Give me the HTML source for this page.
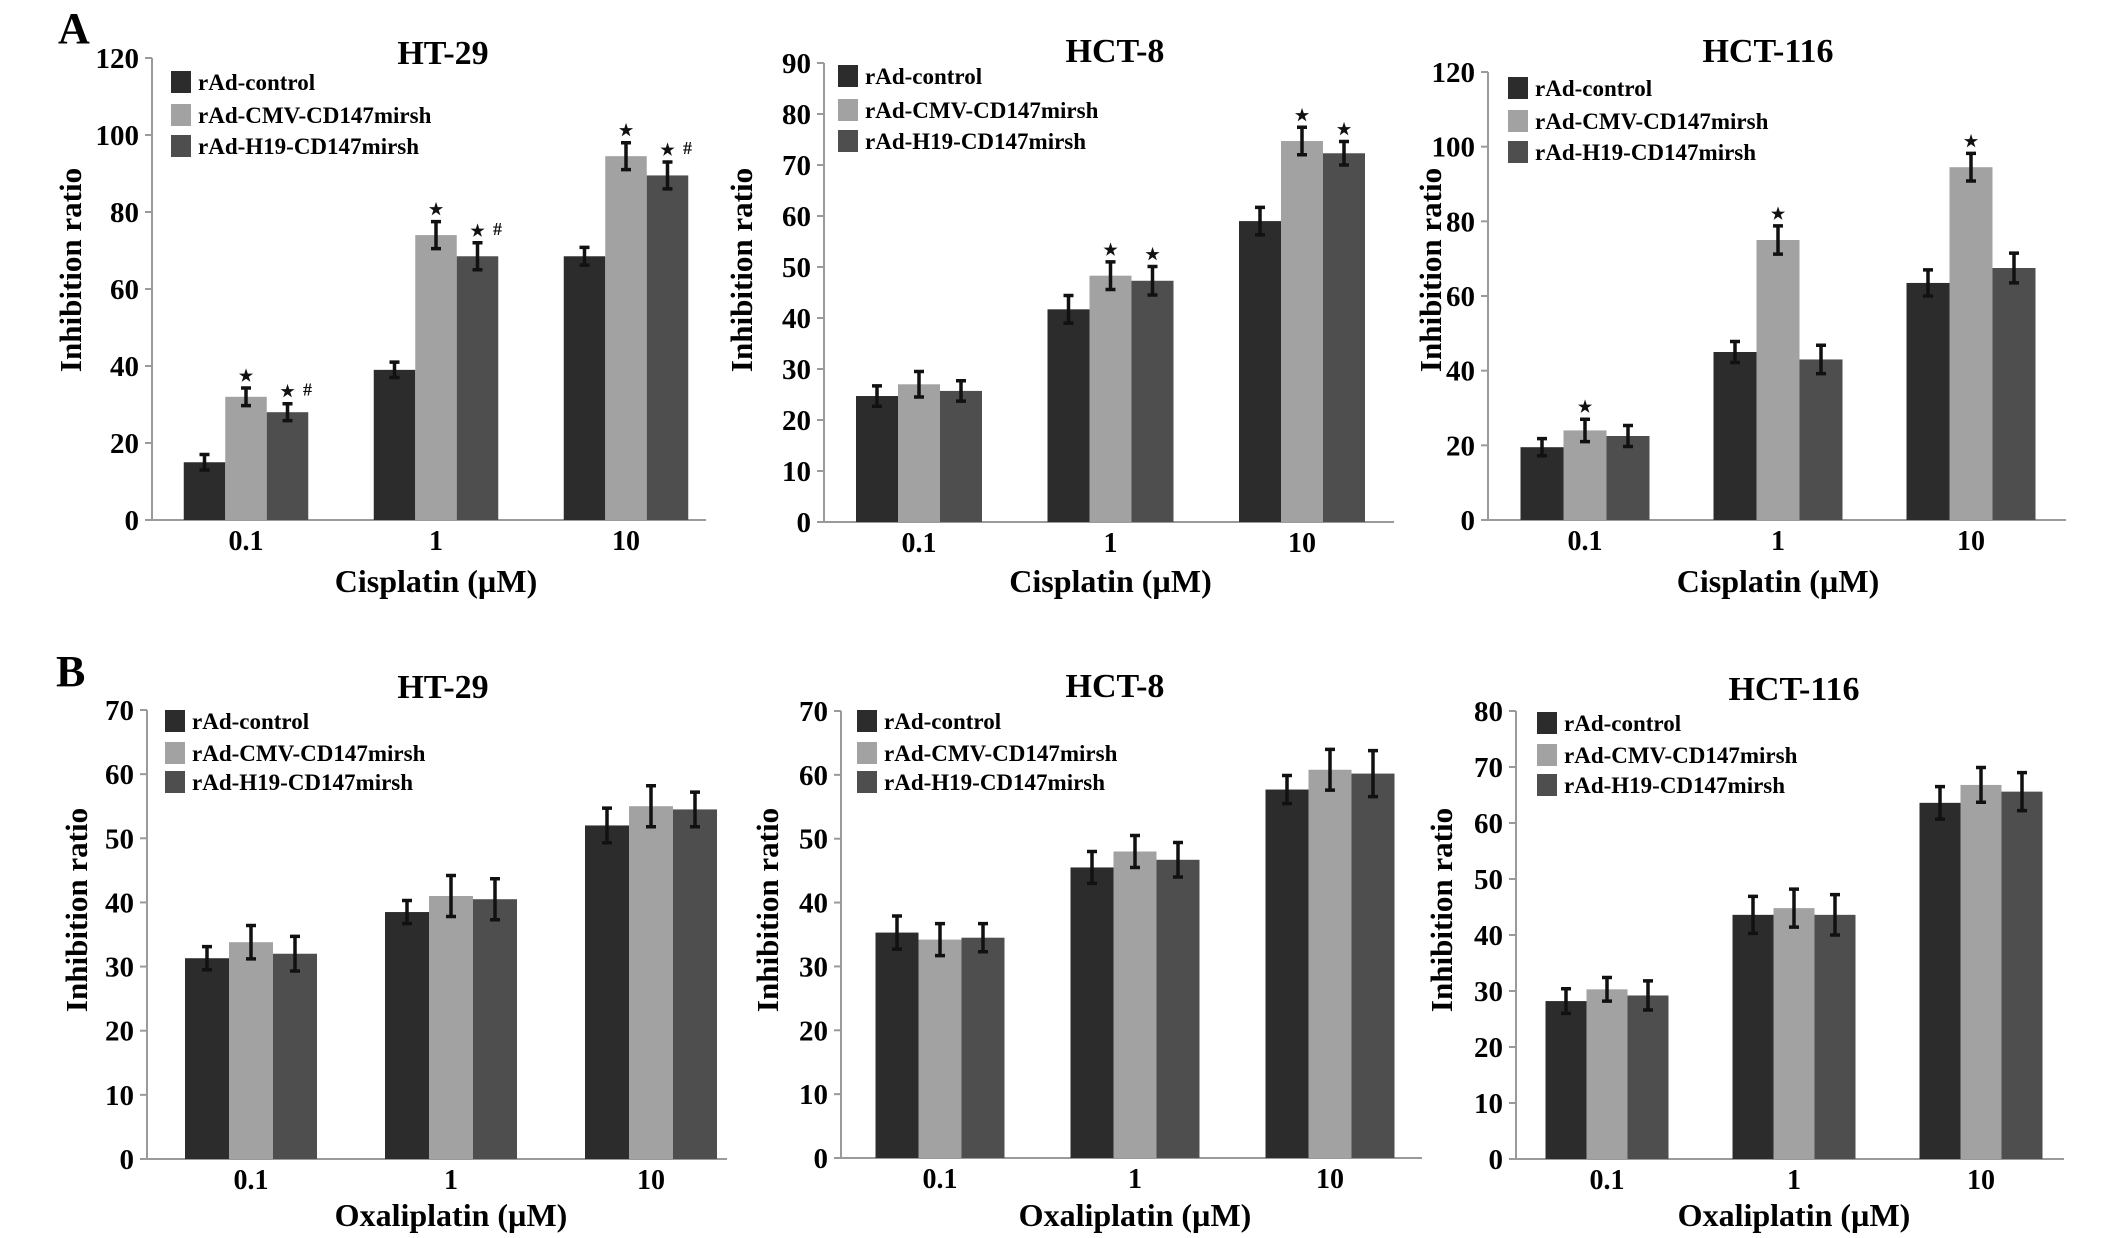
<!DOCTYPE html>
<html><head><meta charset="utf-8">
<style>
html,body{margin:0;padding:0;background:#fff;}
svg{display:block;font-family:"Liberation Serif",serif;font-weight:bold;}
</style></head>
<body>
<svg id="fig" width="2126" height="1238" viewBox="0 0 2126 1238" xmlns="http://www.w3.org/2000/svg">
<rect width="2126" height="1238" fill="#fff"/>
<text x="58" y="43" font-size="44">A</text>
<text x="56" y="686" font-size="44">B</text>
</svg>
<script>
const seriesNames = ["rAd-control","rAd-CMV-CD147mirsh","rAd-H19-CD147mirsh"];
const categories = ["0.1","1","10"];
// Panel A: cisplatin
const a1Control = [15, 39, 68.5];
const a1Cmv = [32, 74, 94.5];
const a1H19 = [28, 68.5, 89.5];
const a1Err = [[2, 2, 2.3],[2.3, 3.5, 3.5],[2.2, 3.5, 3.5]];
const a1Sig = [["","",""],["*","*","*"],["*#","*#","*#"]];
const a2Control = [24.7, 41.7, 59];
const a2Cmv = [27, 48.3, 74.7];
const a2H19 = [25.7, 47.3, 72.3];
const a2Err = [[2, 2.7, 2.7],[2.5, 2.7, 2.7],[2, 2.8, 2.3]];
const a2Sig = [["","",""],["","*","*"],["","*","*"]];
const a3Control = [19.5, 45, 63.5];
const a3Cmv = [24, 75, 94.5];
const a3H19 = [22.5, 43, 67.5];
const a3Err = [[2.3, 2.8, 3.5],[3, 3.8, 3.7],[2.8, 3.8, 4]];
const a3Sig = [["","",""],["*","*","*"],["","",""]];
// Panel B: oxaliplatin
const b1Control = [31.3, 38.5, 52];
const b1Cmv = [33.8, 41, 55];
const b1H19 = [32, 40.5, 54.5];
const b1Err = [[1.8, 1.8, 2.7],[2.6, 3.2, 3.2],[2.7, 3.2, 2.7]];
const b2Control = [35.3, 45.5, 57.7];
const b2Cmv = [34.2, 48, 60.8];
const b2H19 = [34.5, 46.7, 60.2];
const b2Err = [[2.6, 2.5, 2.2],[2.5, 2.5, 3.2],[2.2, 2.7, 3.6]];
const b3Control = [28.2, 43.6, 63.6];
const b3Cmv = [30.3, 44.8, 66.8];
const b3H19 = [29.2, 43.6, 65.6];
const b3Err = [[2.2, 3.3, 2.9],[2.1, 3.4, 3.1],[2.6, 3.6, 3.4]];
const noSig = [["","",""],["","",""],["","",""]];
const yTicksA1 = [0,20,40,60,80,100,120];
const yTicksA2 = [0,10,20,30,40,50,60,70,80,90];
const yTicksA3 = [0,20,40,60,80,100,120];
const yTicksB1 = [0,10,20,30,40,50,60,70];
const yTicksB2 = [0,10,20,30,40,50,60,70];
const yTicksB3 = [0,10,20,30,40,50,60,70,80];

const colors = ["#2c2c2c","#a2a2a2","#4e4e4e"];
const NS = "http://www.w3.org/2000/svg";
const svg = document.getElementById("fig");
function mk(tag, attrs, parent){
  const e = document.createElementNS(NS, tag);
  for (const k in attrs) e.setAttribute(k, attrs[k]);
  (parent||svg).appendChild(e);
  return e;
}
const panels = [
 {id:"a1", title:"HT-29", xt:"Cisplatin (\u00b5M)", vals:[a1Control,a1Cmv,a1H19], err:a1Err, sig:a1Sig, ticks:yTicksA1,
  x0:152, y0:520, yTop:58, g0:246, sp:190, bw:41.5, xEnd:706, tx:443, ty:52, lx:171, ly:[82,115,146], ax:70, ay:270, xty:581},
 {id:"a2", title:"HCT-8", xt:"Cisplatin (\u00b5M)", vals:[a2Control,a2Cmv,a2H19], err:a2Err, sig:a2Sig, ticks:yTicksA2,
  x0:824, y0:522, yTop:63, g0:919, sp:191.5, bw:42, xEnd:1394, tx:1115, ty:50, lx:838, ly:[76,110,141], ax:741, ay:270, xty:581},
 {id:"a3", title:"HCT-116", xt:"Cisplatin (\u00b5M)", vals:[a3Control,a3Cmv,a3H19], err:a3Err, sig:a3Sig, ticks:yTicksA3,
  x0:1488, y0:520, yTop:72, g0:1585, sp:193, bw:43, xEnd:2066, tx:1768, ty:50, lx:1508, ly:[88,121,152], ax:1430, ay:270, xty:581},
 {id:"b1", title:"HT-29", xt:"Oxaliplatin (\u00b5M)", vals:[b1Control,b1Cmv,b1H19], err:b1Err, sig:noSig, ticks:yTicksB1,
  x0:147, y0:1159, yTop:710, g0:251, sp:200, bw:44, xEnd:727, tx:443, ty:686, lx:165, ly:[721,753,782], ax:76, ay:910, xty:1215},
 {id:"b2", title:"HCT-8", xt:"Oxaliplatin (\u00b5M)", vals:[b2Control,b2Cmv,b2H19], err:b2Err, sig:noSig, ticks:yTicksB2,
  x0:841, y0:1158, yTop:711, g0:940, sp:195, bw:43, xEnd:1422, tx:1115, ty:685, lx:857, ly:[721,753,782], ax:767, ay:910, xty:1215},
 {id:"b3", title:"HCT-116", xt:"Oxaliplatin (\u00b5M)", vals:[b3Control,b3Cmv,b3H19], err:b3Err, sig:noSig, ticks:yTicksB3,
  x0:1516, y0:1159, yTop:711, g0:1607, sp:187, bw:41, xEnd:2064, tx:1794, ty:688, lx:1537, ly:[723,755,785], ax:1441, ay:910, xty:1215}
];
panels.forEach(p => {
  const g = mk("g", {});
  
  
  const ymax = p.ticks[p.ticks.length-1];
  const y = v => p.y0 - (v/ymax)*(p.y0-p.yTop);
  const xc = (gi, si) => p.g0 + gi*p.sp + (si-1)*p.bw;
  const t = mk("text", {x:p.tx, y:p.ty+12, "font-size":34, "text-anchor":"middle"}, g);
  t.textContent = p.title;
  
  
  const ya = mk("line", {x1:p.x0, y1:p.yTop, x2:p.x0, y2:p.y0, stroke:"#9a9a9a", "stroke-width":2}, g);
  
  
  p.ticks.forEach(tv => {
    const ty = y(tv);
    const tk = mk("line", {x1:p.x0-7, y1:ty, x2:p.x0, y2:ty, stroke:"#9a9a9a", "stroke-width":2}, g);
    
    
    const tl = mk("text", {x:p.x0-13, y:ty+10, "font-size":29, "text-anchor":"end"}, g);
    tl.textContent = tv;
    
    
  });
  const xa = mk("line", {x1:p.x0, y1:p.y0, x2:p.xEnd, y2:p.y0, stroke:"#9a9a9a", "stroke-width":2}, g);
  
  
  categories.forEach((c, gi) => {
    const cl = mk("text", {x:p.g0 + gi*p.sp, y:p.y0+30, "font-size":28, "text-anchor":"middle"}, g);
    cl.textContent = c;
    
    
  });
  const xt = mk("text", {x:p.g0 + p.sp, y:p.xty+11, "font-size":32, "text-anchor":"middle"}, g);
  xt.textContent = p.xt;
  
  
  const at = mk("text", {x:0, y:0, "font-size":31, "text-anchor":"middle", transform:`translate(${p.ax+11},${p.ay}) rotate(-90)`}, g);
  at.textContent = "Inhibition ratio";
  
  
  p.vals.forEach((arr, si) => {
    arr.forEach((v, gi) => {
      const cx = xc(gi, si), top = y(v);
      const b = mk("rect", {x:cx-p.bw/2, y:top, width:p.bw, height:p.y0-top, fill:colors[si]}, g);
      
      
      const e = p.err[si][gi];
      const eh = y(v+e), el = y(v-e);
      const eb = mk("path", {d:`M${cx},${eh}V${el}M${cx-5},${eh}H${cx+5}M${cx-5},${el}H${cx+5}`, stroke:"#111", "stroke-width":3.5, fill:"none"}, g);
      
      
      const s = p.sig[si][gi];
      if (s) {
        const st = mk("text", {x:cx, y:eh-7, "font-size":16, "text-anchor":"middle", fill:"#111"}, g);
        st.textContent = "\u2605";
        
        
        if (s.indexOf("#") >= 0) {
          const hs = mk("text", {x:cx+20, y:eh-8, "font-size":18, "text-anchor":"middle", fill:"#111"}, g);
          hs.textContent = "#";
          
          
        }
      }
    });
  });
  seriesNames.forEach((n, si) => {
    const sw = mk("rect", {x:p.lx, y:p.ly[si]-11, width:20, height:22, fill:colors[si]}, g);
    
    
    const lt = mk("text", {x:p.lx+27, y:p.ly[si]+8, "font-size":23}, g);
    lt.textContent = n;
    
    
  });
});
</script>
</body></html>
